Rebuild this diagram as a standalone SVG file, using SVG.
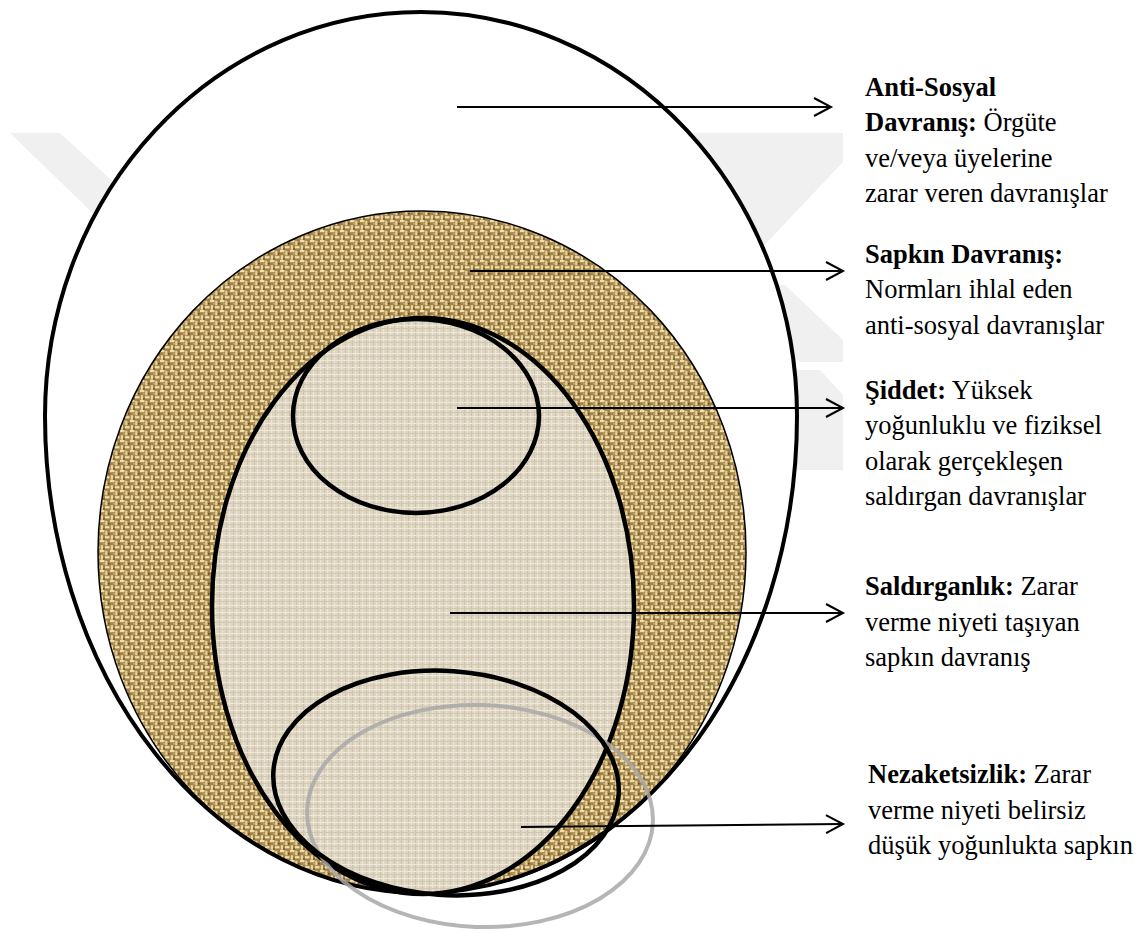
<svg xmlns="http://www.w3.org/2000/svg" width="1142" height="933" viewBox="0 0 1142 933">
<style>
.lbl{font-size:26.5px;fill:#000}
.b{font-weight:bold}
.conn{stroke:#000;stroke-width:2;fill:none}
.thick{fill:none;stroke:#000;stroke-width:4.5}
.wm{fill:#f0f0f0}
</style>
<defs>
<pattern id="burlap" width="10" height="10" patternUnits="userSpaceOnUse">
<rect width="10" height="10" fill="#a0824a"/>
<rect x="0" y="0" width="4.5" height="2.2" fill="#f0dfa8"/>
<rect x="5.2" y="0.8" width="2.2" height="4.5" fill="#e6d296"/>
<rect x="0.8" y="5.2" width="2.2" height="4.5" fill="#ead79e"/>
<rect x="5" y="6.2" width="4.5" height="2.2" fill="#f2e2ad"/>
<rect x="8" y="3" width="1.5" height="1.5" fill="#654b24"/>
<rect x="3.2" y="3" width="1.5" height="1.5" fill="#c9ad6e"/>
<rect x="3.2" y="8.2" width="1.5" height="1.5" fill="#654b24"/>
</pattern>
<pattern id="linen" width="7" height="7" patternUnits="userSpaceOnUse">
<rect width="7" height="7" fill="#ded5c2"/>
<rect x="2" y="0" width="1" height="7" fill="#cdc1a7"/>
<rect x="5" y="0" width="1" height="7" fill="#ece5d6"/>
<rect x="0" y="3" width="7" height="1" fill="#eee8da"/>
<rect x="0" y="6" width="7" height="1" fill="#d2c7af"/>
</pattern>
<marker id="arr" markerWidth="22" markerHeight="22" refX="18" refY="10" orient="auto" markerUnits="userSpaceOnUse">
<path d="M1,1 L18,10 L1,19" fill="none" stroke="#000" stroke-width="2"/>
</marker>
</defs>
<rect width="1142" height="933" fill="#fff"/>
<g id="watermark">
<polygon class="wm" points="10,133 60,133 160,225 105,225"/>
<polygon class="wm" points="690,133 843,133 843,162 758,252 690,252"/>
<polygon class="wm" points="745,285 785,285 843,340 843,362 800,362 745,320"/>
<polygon class="wm" points="790,370 820,370 843,395 843,470 790,470"/>
</g>
<g id="anti-sosyal">
<path d="M45,416 A376,404 0 0 1 797,416 A376,477 0 0 1 45,416 Z" fill="#fff"/>
</g>
<g id="sapkin">
<ellipse cx="422" cy="552" rx="324" ry="341" fill="url(#burlap)" stroke="#000" stroke-width="1.5"/>
</g>
<path d="M45,416 A376,404 0 0 1 797,416 A376,477 0 0 1 45,416 Z" fill="none" stroke="#000" stroke-width="4"/>
<g id="saldirganlik">
<ellipse cx="423" cy="606" rx="211" ry="288" fill="url(#linen)" stroke="#000" stroke-width="4.5"/>
</g>
<g id="siddet">
<ellipse class="thick" cx="416" cy="416" rx="123" ry="97" stroke-width="4"/>
</g>
<g id="nezaketsizlik">
<ellipse cx="480" cy="816" rx="173" ry="111" transform="rotate(2 480 816)" fill="none" stroke="#a8a8a8" stroke-width="4" opacity="0.85"/>
<ellipse class="thick" cx="446" cy="783" rx="173" ry="112" transform="rotate(4 446 783)"/>
</g>
<g id="connectors">
<path class="conn" d="M457,107 L831,107" marker-end="url(#arr)"/>
<path class="conn" d="M470,271 L843,271" marker-end="url(#arr)"/>
<path class="conn" d="M457,408 L843,408" marker-end="url(#arr)"/>
<path class="conn" d="M450,613 L843,613" marker-end="url(#arr)"/>
<path class="conn" d="M521,827 L843,824" marker-end="url(#arr)"/>
</g>
<g id="label-anti-sosyal" font-family="Liberation Serif, serif">
<text x="865" y="96" class="lbl b">Anti-Sosyal</text>
<text x="865" y="131" class="lbl"><tspan class="b">Davranış:</tspan> Örgüte</text>
<text x="865" y="167" class="lbl">ve/veya üyelerine</text>
<text x="865" y="202" class="lbl">zarar veren davranışlar</text>
</g>
<g id="label-sapkin" font-family="Liberation Serif, serif">
<text x="865" y="263" class="lbl b">Sapkın Davranış:</text>
<text x="865" y="298" class="lbl">Normları ihlal eden</text>
<text x="865" y="334" class="lbl">anti-sosyal davranışlar</text>
</g>
<g id="label-siddet" font-family="Liberation Serif, serif">
<text x="865" y="399" class="lbl"><tspan class="b">Şiddet:</tspan> Yüksek</text>
<text x="865" y="434" class="lbl">yoğunluklu ve fiziksel</text>
<text x="865" y="470" class="lbl">olarak gerçekleşen</text>
<text x="865" y="505" class="lbl">saldırgan davranışlar</text>
</g>
<g id="label-saldirganlik" font-family="Liberation Serif, serif">
<text x="865" y="595" class="lbl"><tspan class="b">Saldırganlık:</tspan> Zarar</text>
<text x="865" y="631" class="lbl">verme niyeti taşıyan</text>
<text x="865" y="666" class="lbl">sapkın davranış</text>
</g>
<g id="label-nezaketsizlik" font-family="Liberation Serif, serif">
<text x="868" y="783" class="lbl"><tspan class="b">Nezaketsizlik:</tspan> Zarar</text>
<text x="868" y="819" class="lbl">verme niyeti belirsiz</text>
<text x="868" y="854" class="lbl">düşük yoğunlukta sapkın</text>
</g>
</svg>
